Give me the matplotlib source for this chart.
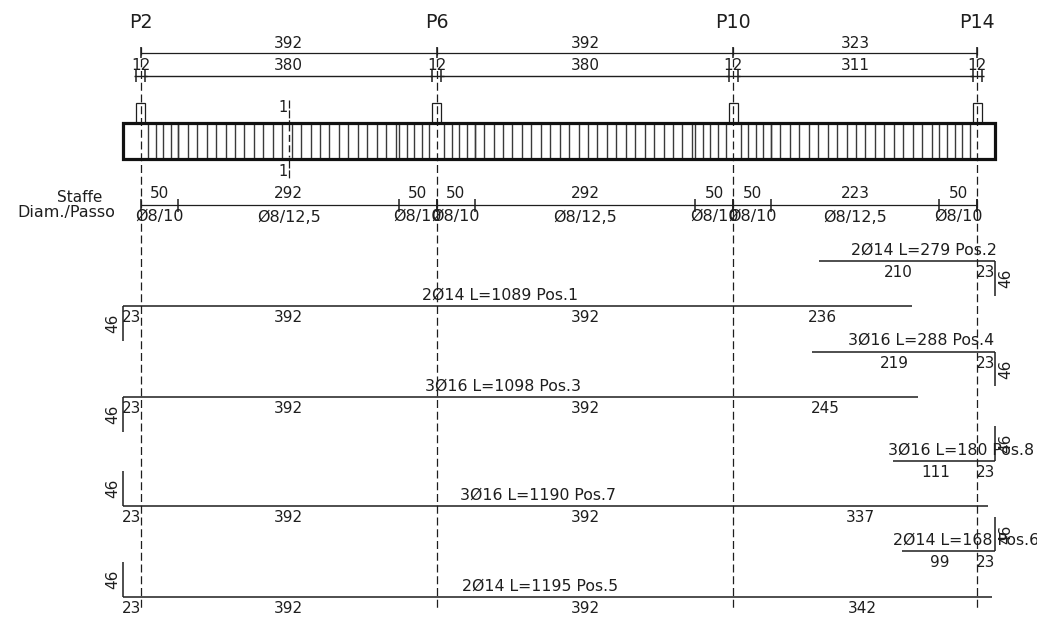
import matplotlib
matplotlib.use("Agg")
import numpy as np
import matplotlib.pyplot as plt
from matplotlib.patches import Rectangle

# everything on x is in cm from the axis of P2, y is the sheet row in pixels
INK = "#1e1e1e"
W, H = 1037, 619
X0, SCALE = 140.5, 0.7559

support_names = ["P2", "P6", "P10", "P14"]
span_lengths = [392, 392, 323]
clear_lengths = [380, 380, 311]
support_width = 12
overhang = 23
hook = 46

# stirrup zones per span: (length, pitch, label)
stirrup_zones = [
    [(50, 10, "Ø8/10"), (292, 12.5, "Ø8/12,5"), (50, 10, "Ø8/10")],
    [(50, 10, "Ø8/10"), (292, 12.5, "Ø8/12,5"), (50, 10, "Ø8/10")],
    [(50, 10, "Ø8/10"), (223, 12.5, "Ø8/12,5"), (50, 10, "Ø8/10")],
]

# rebars: label, row, start, segment lengths, hook side, hook direction
bar_labels = ["2Ø14 L=279 Pos.2", "2Ø14 L=1089 Pos.1", "3Ø16 L=288 Pos.4", "3Ø16 L=1098 Pos.3",
              "3Ø16 L=180 Pos.8", "3Ø16 L=1190 Pos.7", "2Ø14 L=168 Pos.6", "2Ø14 L=1195 Pos.5"]
bar_rows = [261, 306, 351.5, 397, 460.7, 505.7, 551.3, 597]
bar_segments = [[210, 23], [23, 392, 392, 236], [219, 23], [23, 392, 392, 245],
                [111, 23], [23, 392, 392, 337], [99, 23], [23, 392, 392, 342]]
hook_sides = ["right", "left", "right", "left", "right", "left", "right", "left"]
hook_dirs = [1, 1, 1, 1, -1, -1, -1, -1]

plt.rcParams["font.family"] = "DejaVu Sans"
fig = plt.figure(figsize=(W / 100, H / 100), dpi=100)
ax = fig.add_axes([0, 0, 1, 1])
ax.set_xlim(-X0 / SCALE, (W - X0) / SCALE)
ax.set_ylim(H, 0)
ax.axis("off")

supports = np.concatenate([[0], np.cumsum(span_lengths)])
total = supports[-1]
left_end, right_end = -overhang, total + overhang


def line(x, y, lw=0.75, **kw):
    ax.plot(x, y, color=kw.pop("color", INK), lw=lw, solid_capstyle="butt", **kw)


def label(x, y, s, size=11, **kw):
    ax.text(x, y, s, fontsize=size, color=INK, ha="center", va="center", **kw)


# column axes
for s in supports:
    line([s, s], [47, 608], lw=0.9, linestyle=(0, (6.4, 3.0)))

# top dimension lines
for s, name in zip(supports, support_names):
    label(s, 22, name, size=13.7)
    label(s, 65, str(support_width))
    line([s, s], [47, 58], lw=1.1)
    for t in (s - support_width / 2, s + support_width / 2):
        line([t, t], [70, 82], lw=1.1)
    line([s - support_width / 2 - 3, s + support_width / 2 + 3], [76, 76], lw=1.0)
line([0, total], [53, 53], lw=0.9)
for a, span, clear in zip(supports[:-1], span_lengths, clear_lengths):
    label(a + span / 2, 43, str(span))
    label(a + span / 2, 65, str(clear))
    line([a + support_width / 2, a + span - support_width / 2], [76, 76], lw=1.0)

# beam with stirrups, the column axes stand in for a stirrup on the supports
for start, zones in zip(supports[:-1], stirrup_zones):
    x = start
    for length, pitch, _ in zones:
        for st in np.arange(x, x + length + 0.01, pitch):
            if st not in supports:
                line([st, st], [122, 158], lw=1.0, color="#3a3a3a")
        x += length
ax.add_patch(Rectangle((left_end, 122.5), right_end - left_end, 36, fill=False, ec="#111111", lw=2.3, zorder=4))
for s in supports:
    ax.add_patch(Rectangle((s - support_width / 2, 102.5), support_width, 20, fill=False, ec=INK, lw=0.9))

# section mark
mid = span_lengths[0] / 2
line([mid, mid], [100, 122], lw=0.9, linestyle=(0, (6.4, 1.5)))
line([mid, mid], [160, 179], lw=0.9, linestyle=(0, (6.4, 1.5)))
line([mid, mid], [124, 157], lw=3, color="white", zorder=2.5)
line([mid, mid], [124, 157], lw=1.0, linestyle=(0, (5, 2.5)), zorder=2.6)
label(mid - 7, 108, "1", size=10.5)
label(mid - 7, 172, "1", size=10.5)

# stirrup table
label(-80, 198, "Staffe", size=11)
label(-98.5, 212.5, "Diam./Passo", size=11.5)
line([0, total], [205, 205], lw=0.9)
for start, zones in zip(supports[:-1], stirrup_zones):
    x = start
    for length, _, name in zones:
        label(x + length / 2, 194, str(length))
        label(x + length / 2, 217, name, size=11.5)
        x += length
        line([x, x], [199, 212], lw=1.1)
for s in supports:
    line([s, s], [199, 212], lw=1.1)

# rebars
for name, row, segs, side, d in zip(bar_labels, bar_rows, bar_segments, hook_sides, hook_dirs):
    run = sum(segs)
    x0 = left_end if side == "left" else right_end - run
    x1 = x0 + run
    hx = x0 if side == "left" else x1
    line([x0, x1], [row, row], lw=1.1)
    line([hx, hx], [row, row + d * hook * SCALE], lw=1.1)
    # title sits on the developed length, hook included
    dev0, dev1 = (x0 - hook, x1) if side == "left" else (x0, x1 + hook)
    label((dev0 + dev1) / 2, row - 11, name, size=11.3)
    x = x0
    for seg in segs:
        label(x + seg / 2, row + 11.5, str(seg))
        x += seg
    off = -10 if side == "left" else 11
    label(hx + off / SCALE, row + d * hook * SCALE / 2, str(hook), rotation=90)

fig.savefig("out.png", dpi=100, facecolor="white")
